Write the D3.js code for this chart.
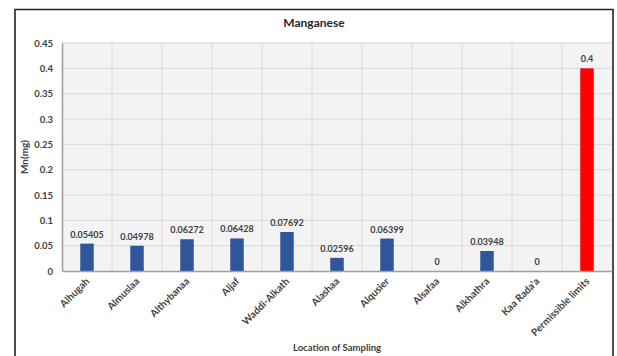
<!DOCTYPE html>
<html>
<head>
<meta charset="utf-8">
<script src="https://cdn.jsdelivr.net/npm/d3@7"></script>
<style>
  body { margin: 0; background: #fff; }
  svg { display: block; font-family: Lato, "Open Sans", sans-serif; }
</style>
</head>
<body>
<div id="chart"></div>
<script>
// data
const sites = ["Alhugah", "Almuslaa", "Althybanaa", "Aljaf", "Waddi-Alkath", "Alashaa",
               "Alqusier", "Alsafaa", "Alkhathra", "Kaa Rada'a", "Permissible limits"];
const mnValues = [0.05405, 0.04978, 0.06272, 0.06428, 0.07692, 0.02596,
                  0.06399, 0, 0.03948, 0, 0.4];
const valueLabels = ["0.05405", "0.04978", "0.06272", "0.06428", "0.07692", "0.02596",
                     "0.06399", "0", "0.03948", "0", "0.4"];
const yTicks = [0, 0.05, 0.1, 0.15, 0.2, 0.25, 0.3, 0.35, 0.4, 0.45];

const width = 617, height = 356;
const margin = {top: 43, right: 5, bottom: 85, left: 62};

const svg = d3.select("#chart").append("svg")
    .attr("width", width)
    .attr("height", height);

// outer frame of the chart
svg.append("path")
    .attr("d", "M15,356 L15,9.5 L613,9.5 L613,356")
    .attr("fill", "none")
    .attr("stroke", "#222")
    .attr("stroke-width", 1.6);

const x = d3.scaleBand()
    .domain(sites)
    .range([margin.left, width - margin.right])
    .paddingInner(0)
    .paddingOuter(0);

const y = d3.scaleLinear()
    .domain([0, 0.45])
    .range([271, margin.top]);

// plot background
svg.append("rect")
    .attr("x", x.range()[0])
    .attr("y", y(0.45) - 1)
    .attr("width", x.range()[1] - x.range()[0])
    .attr("height", y(0) - y(0.45) + 1)
    .attr("fill", "#f3f3f3");

// horizontal grid
svg.append("g")
    .selectAll("line")
    .data(yTicks.slice(1))
    .join("line")
    .attr("x1", x.range()[0])
    .attr("x2", x.range()[1])
    .attr("y1", d => y(d))
    .attr("y2", d => y(d))
    .attr("stroke", "#dadada")
    .attr("stroke-width", 1);

// vertical grid between categories
svg.append("g")
    .selectAll("line")
    .data(sites.slice(1))
    .join("line")
    .attr("x1", d => x(d))
    .attr("x2", d => x(d))
    .attr("y1", y(0.45))
    .attr("y2", y(0))
    .attr("stroke", "#dadada")
    .attr("stroke-width", 1);

// bars
const barW = 13.5;
svg.append("g")
    .selectAll("rect")
    .data(mnValues)
    .join("rect")
    .attr("x", (d, i) => x(sites[i]) + x.bandwidth() / 2 - barW / 2)
    .attr("y", d => y(d))
    .attr("width", barW)
    .attr("height", d => y(0) - y(d))
    .attr("fill", (d, i) => sites[i] === "Permissible limits" ? "#ff0000" : "#2f559b");

// value labels
svg.append("g")
    .selectAll("text")
    .data(valueLabels)
    .join("text")
    .attr("x", (d, i) => x(sites[i]) + x.bandwidth() / 2)
    .attr("y", (d, i) => y(mnValues[i]) - 6)
    .attr("text-anchor", "middle")
    .attr("font-size", 9)
    .attr("font-weight", "bold")
    .attr("fill", "#404040")
    .text(d => d);

// y axis
const yAxis = d3.axisLeft(y)
    .tickValues(yTicks)
    .tickFormat(d => d3.format("~g")(d))
    .tickSize(0)
    .tickPadding(9);
const yg = svg.append("g")
    .attr("transform", `translate(${margin.left},0)`)
    .call(yAxis);
yg.select(".domain").attr("stroke", "#a0a0a0").attr("stroke-width", 1.6);
yg.selectAll("text")
    .attr("font-size", 9.5)
    .attr("font-weight", "bold")
    .attr("fill", "#404040")
    .attr("font-family", "Lato, 'Open Sans', sans-serif");

// x axis
const xAxis = d3.axisBottom(x).tickSize(0).tickFormat("");
const xg = svg.append("g")
    .attr("transform", `translate(0,${y(0)})`)
    .call(xAxis);
xg.select(".domain").attr("stroke", "#a0a0a0").attr("stroke-width", 1.4);

// rotated category labels
svg.append("g")
    .selectAll("text")
    .data(sites)
    .join("text")
    .attr("transform", d => `translate(${x(d) + x.bandwidth() / 2 + 3},${y(0) + 11}) rotate(-45)`)
    .attr("text-anchor", "end")
    .attr("font-size", 10)
    .attr("font-weight", "bold")
    .attr("fill", "#404040")
    .text(d => d);

// titles
svg.append("text")
    .attr("x", 314)
    .attr("y", 27)
    .attr("text-anchor", "middle")
    .attr("font-size", 12)
    .attr("font-weight", "bold")
    .attr("fill", "#262626")
    .text("Manganese");

svg.append("text")
    .attr("transform", "translate(28,157) rotate(-90)")
    .attr("text-anchor", "middle")
    .attr("font-size", 10)
    .attr("font-weight", "bold")
    .attr("fill", "#404040")
    .text("Mn(mg)");

svg.append("text")
    .attr("x", (x.range()[0] + x.range()[1]) / 2)
    .attr("y", 351)
    .attr("text-anchor", "middle")
    .attr("font-size", 9.5)
    .attr("font-weight", "bold")
    .attr("fill", "#404040")
    .text("Location of Sampling");
</script>
</body>
</html>
